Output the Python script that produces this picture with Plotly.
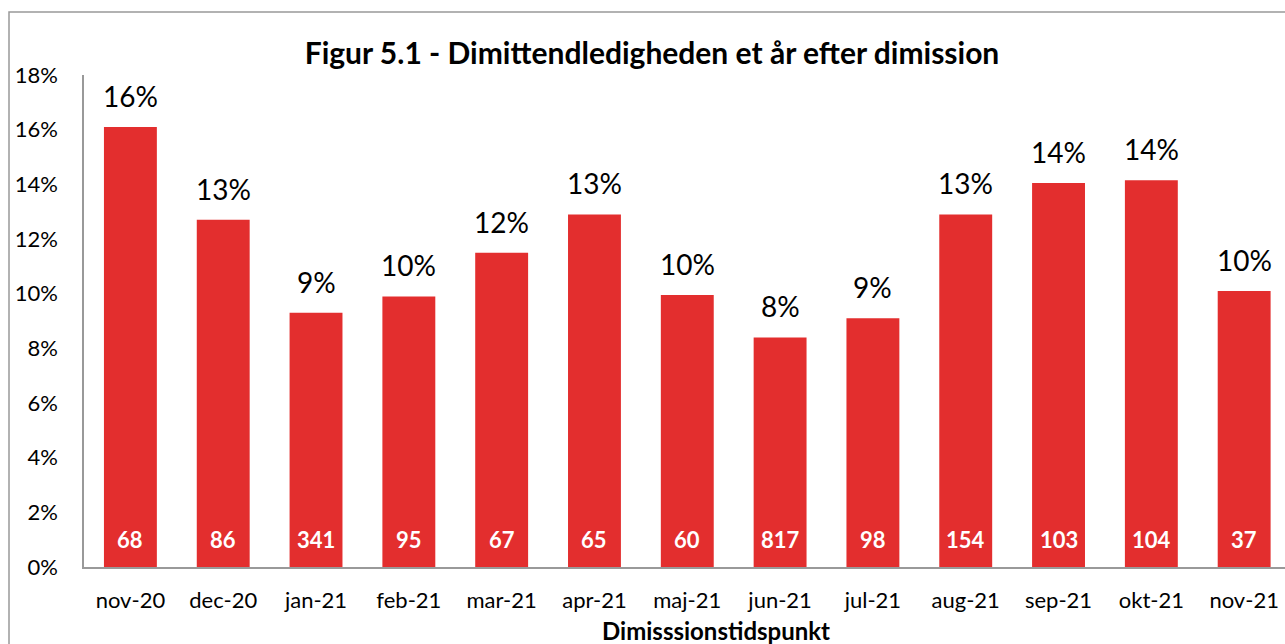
import plotly.graph_objects as go

categories = ["nov-20", "dec-20", "jan-21", "feb-21", "mar-21", "apr-21", "maj-21",
              "jun-21", "jul-21", "aug-21", "sep-21", "okt-21", "nov-21"]
rates = [0.161, 0.127, 0.093, 0.099, 0.115, 0.129, 0.0995, 0.084, 0.091, 0.129, 0.1405, 0.1415, 0.101]
counts = [68, 86, 341, 95, 67, 65, 60, 817, 98, 154, 103, 104, 37]
y_ticks = [0, 0.02, 0.04, 0.06, 0.08, 0.10, 0.12, 0.14, 0.16, 0.18]

FONT = "Lato"
RED = "#E32E2E"

W, H = 1285, 644
L, R, T, B = 84, 0, 75, 77

fig = go.Figure()
fig.add_trace(go.Bar(
    x=list(range(len(categories))), y=rates,
    marker=dict(color=RED, line=dict(width=0)),
    width=0.57, hoverinfo="skip",
))

annotations = []
for i, (v, c) in enumerate(zip(rates, counts)):
    annotations.append(dict(x=i, y=v, xref="x", yref="y", text=f"{round(v*100):.0f}%",
                            showarrow=False, yanchor="bottom", yshift=12,
                            font=dict(family=FONT, size=28, color="#000")))
    annotations.append(dict(x=i, y=0, xref="x", yref="y", text=f"<b>{c}</b>",
                            showarrow=False, yanchor="bottom", yshift=12,
                            font=dict(family=FONT, size=22, color="#fff")))

pw = W - L - R
ph = H - T - B
annotations.append(dict(x=(716 - L) / pw, y=-(630 - (H - B)) / ph, xref="paper", yref="paper",
                        text="<b>Dimisssionstidspunkt</b>", showarrow=False,
                        xanchor="center", yanchor="middle",
                        font=dict(family=FONT, size=24, color="#000")))

fig.add_shape(type="rect", xref="paper", yref="paper",
              x0=(9 - L) / pw, x1=1.05, y0=-0.5, y1=(H - B - 12) / ph,
              line=dict(color="#999", width=1.5), fillcolor="rgba(0,0,0,0)", layer="below")

fig.update_layout(
    width=W, height=H,
    margin=dict(l=L, r=R, t=T, b=B, pad=0),
    paper_bgcolor="white", plot_bgcolor="white",
    showlegend=False,
    title=dict(text="<b>Figur 5.1 - Dimittendledigheden et år efter dimission</b>",
               x=(652) / W, xanchor="center", xref="container",
               y=1 - 53 / H, yanchor="middle", yref="container",
               font=dict(family=FONT, size=30, color="#000")),
    annotations=annotations,
    xaxis=dict(tickmode="array", tickvals=list(range(len(categories))), ticktext=categories,
               range=[-0.5, 12.44], showline=True, linecolor="#999", linewidth=1.5,
               showgrid=False, zeroline=False, ticks="", ticklabelstandoff=13,
               tickfont=dict(family=FONT, size=22, color="#000")),
    yaxis=dict(range=[0, 0.18], tickvals=y_ticks, tickformat=".0%",
               showline=True, linecolor="#999", linewidth=1.5,
               showgrid=False, zeroline=False, ticks="", ticklabelstandoff=20,
               tickfont=dict(family=FONT, size=22, color="#000")),
)

fig.write_html("out.html", config={"displayModeBar": False},
               post_script="document.body.style.margin='0px';document.body.style.overflow='hidden';")
